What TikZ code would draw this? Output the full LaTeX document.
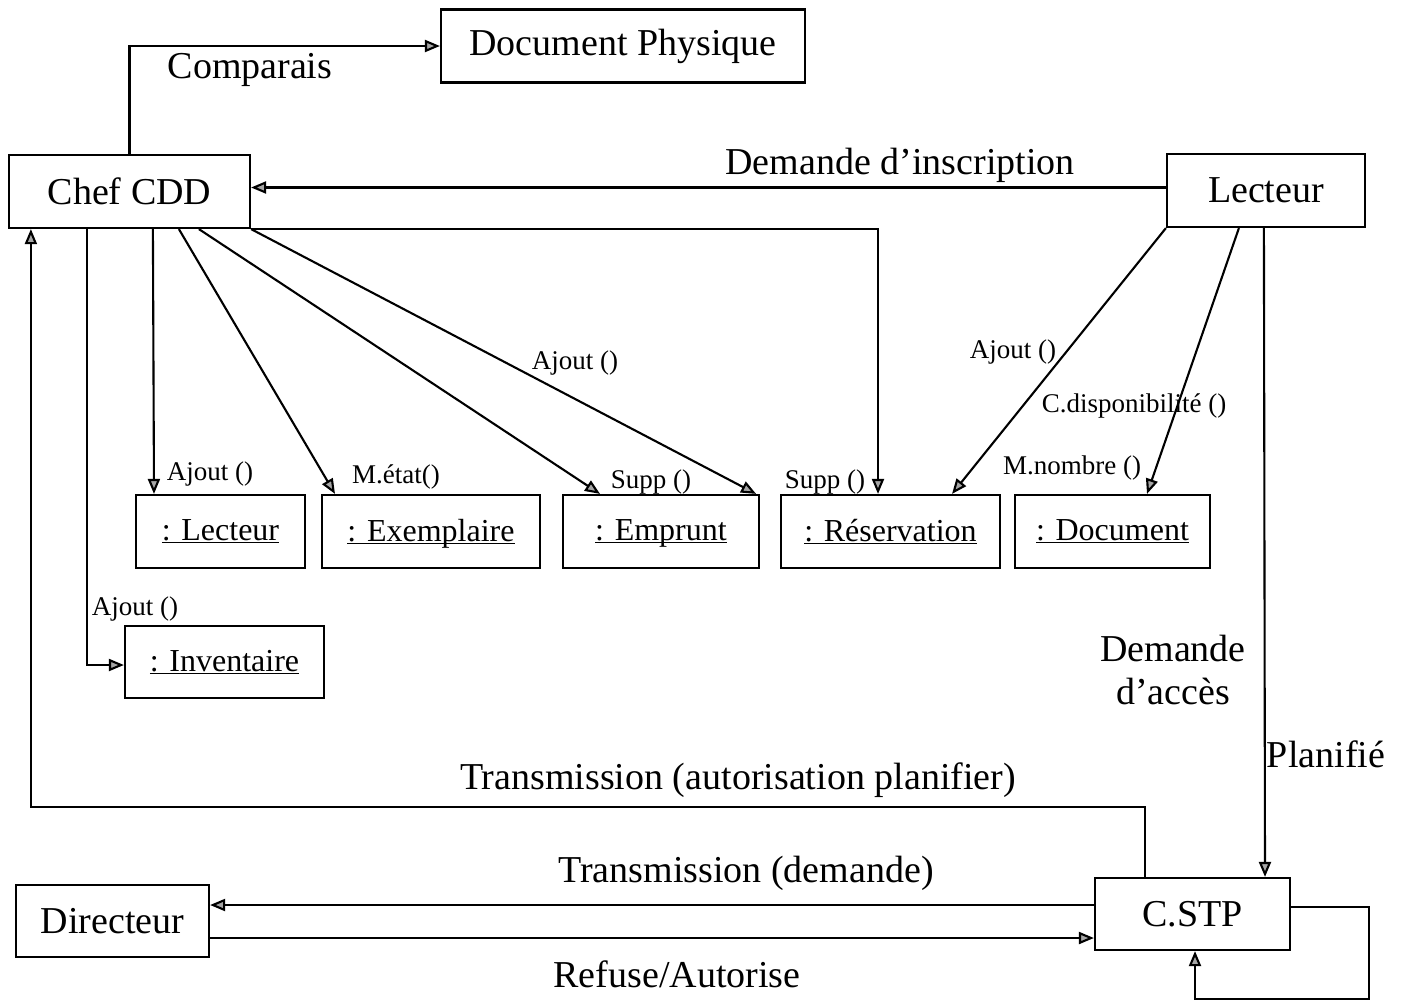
\documentclass[tikz,border=0pt]{standalone}
\usepackage{fontspec}
\setmainfont{Liberation Serif}
\usetikzlibrary{arrows.meta,calc}
\newcommand{\objtxt}[1]{\underline{\raisebox{0pt}[\height][0pt]{#1}}}
\tikzset{
  box/.style={draw, line width=2.2pt, rectangle, inner sep=0pt, minimum height=73pt, font=\fontsize{38}{42}\selectfont},
  objbox/.style={draw, line width=2.2pt, rectangle, inner sep=0pt, minimum height=73pt, font=\fontsize{32}{35}\selectfont},
  conn/.style={line width=2.1pt},
  arr/.style={conn, -{Triangle[length=15pt,width=12pt,fill=gray!70]}},
  biglbl/.style={inner sep=0pt, font=\fontsize{38}{43}\selectfont},
  smalllbl/.style={inner sep=0pt, font=\fontsize{27}{29}\selectfont},
}
\begin{document}
\begin{tikzpicture}[x=1pt,y=-1pt]
\useasboundingbox[fill=white] (0,0) rectangle (1404,1002);
% main boxes
\node[box, minimum width=364pt] (docphys) at (623,46) {Document Physique};
\node[box, minimum width=241pt] (chef) at (129.5,191.5) {Chef CDD};
\node[box, minimum width=198pt] (lect) at (1266,190.5) {Lecteur};
\node[box, minimum width=195pt, minimum height=72pt] (cstp) at (1192.5,914) {C.STP};
\node[box, minimum width=193pt, minimum height=72pt] (dir) at (112.5,921) {Directeur};
% object boxes
\node[objbox, minimum width=169pt] (olect) at (220.5,531.5) {\objtxt{: Lecteur}};
\node[objbox, minimum width=218pt] (oexemp) at (431,531.5) {\objtxt{: Exemplaire}};
\node[objbox, minimum width=196pt] (oempr) at (661,531.5) {\objtxt{: Emprunt}};
\node[objbox, minimum width=219pt] (oresa) at (890.5,531.5) {\objtxt{: Réservation}};
\node[objbox, minimum width=195pt] (odoc) at (1112.5,531.5) {\objtxt{: Document}};
\node[objbox, minimum width=199pt, minimum height=72pt] (oinv) at (224.5,662) {\objtxt{: Inventaire}};
% connectors
\draw[arr] (chef.north) |- (docphys.west);
\draw[arr] ([yshift=3pt]lect.west) -- ([yshift=3pt]lect.west -| chef.east);
\draw[arr] (chef.south east) -| ([xshift=-12.5pt]oresa.north);
\draw[arr] ([xshift=79pt]chef.south west) |- ([yshift=-3pt]oinv.west);
\draw[arr] ([xshift=145pt]chef.south west) -- ([xshift=-66.5pt]olect.north);
\draw[arr] ([xshift=171pt]chef.south west) -- ([xshift=-96pt]oexemp.north);
\draw[arr] ([xshift=191pt]chef.south west) -- ([xshift=-61pt]oempr.north);
\draw[arr] (chef.south east) -- ([xshift=-4pt]oempr.north east);
\draw[arr] (lect.south west) -- ([xshift=61.5pt]oresa.north);
\draw[arr] ([xshift=73pt]lect.south west) -- ([xshift=34.5pt]odoc.north);
\draw[arr] ([xshift=98pt]lect.south west) -- ([xshift=72.5pt]cstp.north);
\draw[arr] ([xshift=-47.5pt]cstp.north) -- ++(0,-70) -| ([xshift=23pt]chef.south west);
\draw[arr] ([yshift=9pt]cstp.west) -- ([yshift=9pt]cstp.west -| dir.east);
\draw[arr] ([yshift=-17pt]dir.east) -- ([yshift=-17pt]dir.east -| cstp.west);
\draw[arr] ([yshift=7pt]cstp.east) -- ++(78,0) -- ++(0,92) -| ([xshift=2.5pt]cstp.south);
% labels
\node[biglbl] (lcomp) at (250,70) {Comparais};
\node[biglbl] (ldemi) at (900,165) {Demande d’inscription};
\node[smalllbl] (la1) at (210,474) {Ajout ()};
\node[smalllbl] (lme) at (396,477) {M.état()};
\node[smalllbl] (ls1) at (651,482) {Supp ()};
\node[smalllbl] (la2) at (575,363) {Ajout ()};
\node[smalllbl] (ls2) at (825,482) {Supp ()};
\node[smalllbl] (la3) at (1013,352) {Ajout ()};
\node[smalllbl] (lcd) at (1134,406) {C.disponibilité ()};
\node[smalllbl] (lmn) at (1072,468) {M.nombre ()};
\node[smalllbl] (la4) at (135,609) {Ajout ()};
\node[biglbl, align=center] (ldacc) at (1173,670) {Demande\\d’accès};
\node[biglbl] (lplan) at (1326,754) {Planifié};
\node[biglbl] (ltap) at (738,780) {Transmission (autorisation planifier)};
\node[biglbl] (ltd) at (746,873) {Transmission (demande)};
\node[biglbl] (lra) at (677,974) {Refuse/Autorise};
\end{tikzpicture}
\end{document}
